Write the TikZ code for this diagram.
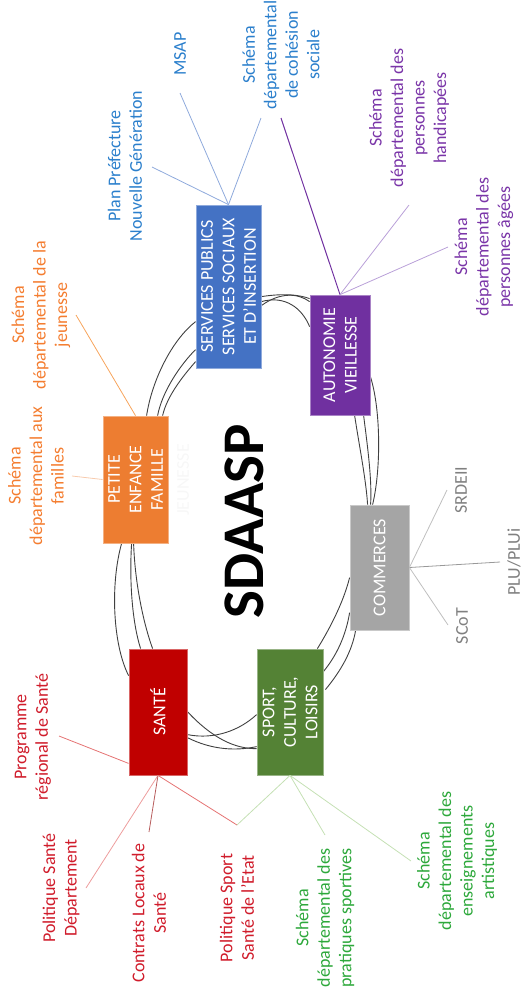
\documentclass[tikz,border=0pt]{standalone}
\usepackage{fontspec}
\setmainfont{Carlito}
\usetikzlibrary{calc}
\definecolor{cBlue}{HTML}{4472C4}
\definecolor{cPurple}{HTML}{7030A0}
\definecolor{cOrange}{HTML}{ED7D31}
\definecolor{cGray}{HTML}{A5A5A5}
\definecolor{cRed}{HTML}{C00000}
\definecolor{cGreen}{HTML}{548235}
\definecolor{tBlue}{HTML}{2B7FCC}
\definecolor{tPurple}{HTML}{7A35A8}
\definecolor{tOrange}{HTML}{F47D30}
\definecolor{tGray}{HTML}{808080}
\definecolor{tRed}{HTML}{D01C2B}
\definecolor{tGreen}{HTML}{2DA83B}
\definecolor{lBlue}{HTML}{8FAADC}
\definecolor{lPurple}{HTML}{B9A0D8}
\definecolor{lOrange}{HTML}{F7A45C}
\definecolor{lOrangeL}{HTML}{F8CBAD}
\definecolor{lGray}{HTML}{BFBFBF}
\definecolor{lRed}{HTML}{E57373}
\definecolor{lGreen}{HTML}{C5E0B4}
\tikzset{
  boxnode/.style={rectangle, inner sep=0pt, line width=0.8pt},
  boxtxt/.style={rotate=90, align=center, text=white, font=\fontsize{18}{21.5}\selectfont, inner sep=0pt},
  lbl/.style={rotate=90, align=center, font=\fontsize{18}{21.5}\selectfont, inner sep=0pt},
  ring/.style={draw=black!75, line width=0.9pt},
  leg/.style={line width=0.8pt}
}
\begin{document}
\begin{tikzpicture}[x=1pt,y=-1pt]
\useasboundingbox (0,0) rectangle (526,994);

% boxes (anchors for the ring curves)
\node[boxnode, fill=cBlue, draw=cBlue!60!white, minimum width=65pt, minimum height=163pt] (bsvc) at (228.5,286.5) {};
\node[boxnode, fill=cPurple, draw=cPurple!60!white, minimum width=60pt, minimum height=120pt] (baut) at (340,355) {};
\node[boxnode, fill=cOrange, draw=cOrange!60!white, minimum width=65pt, minimum height=127pt] (bpet) at (135.5,479.5) {};
\node[boxnode, fill=cGray, draw=cGray!60!white, minimum width=59pt, minimum height=125pt] (bcom) at (379.5,567.5) {};
\node[boxnode, fill=cRed, draw=cRed!60!white, minimum width=58pt, minimum height=126pt] (bsan) at (158,712) {};
\node[boxnode, fill=cGreen, draw=cGreen!60!white, minimum width=66pt, minimum height=126pt] (bspo) at (290,712) {};

% ring curves between boxes
% services -> autonomie
\draw[ring] ($(bsvc.north east)+(0,92)$) .. controls (285,293) and (300,295) .. ($(baut.north west)+(0,4)$);
\draw[ring] ($(bsvc.north east)+(0,97)$) .. controls (285,295) and (302,308) .. ($(baut.north west)+(0,32)$);
\draw[ring] ($(bsvc.north east)+(0,101)$) .. controls (280,292) and (298,293) .. ($(baut.north west)+(0,7)$);
% services -> petite enfance
\draw[ring] ($(bsvc.north west)+(0,117)$) .. controls (172,340) and (152,380) .. ($(bpet.north west)+(44,0)$);
\draw[ring] ($(bsvc.north west)+(0,145)$) .. controls (180,365) and (162,392) .. ($(bpet.north west)+(55,0)$);
\draw[ring] ($(bsvc.north west)+(0,157)$) .. controls (183,376) and (167,396) .. ($(bpet.north west)+(60,0)$);
% petite enfance -> sante
\draw[ring] ($(bpet.south west)+(19,0)$) .. controls (110,585) and (113,645) .. ($(bsan.north west)+(0,27)$);
\draw[ring] ($(bpet.south west)+(29,0)$) .. controls (129,585) and (133,625) .. ($(bsan.north west)+(12,0)$);
\draw[ring] ($(bpet.south west)+(31,0)$) .. controls (135,585) and (144,625) .. ($(bsan.north west)+(24,0)$);
% sante -> sport
\draw[ring] ($(bsan.north east)+(0,63)$) .. controls (212,738) and (235,749) .. ($(bspo.north west)+(0,100)$);
\draw[ring] ($(bsan.north east)+(0,86)$) .. controls (215,740) and (240,730) .. ($(bspo.north west)+(0,66)$);
\draw[ring] ($(bsan.north east)+(0,89)$) .. controls (212,750) and (236,751) .. ($(bspo.north west)+(0,98)$);
% sport -> commerces
\draw[ring] ($(bspo.north east)+(-6,0)$) .. controls (332,625) and (344,600) .. ($(bcom.north west)+(0,73)$);
\draw[ring] ($(bspo.north east)+(0,23)$) .. controls (337,655) and (346,635) .. ($(bcom.north west)+(0,108)$);
\draw[ring] ($(bspo.north east)+(2,41)$) .. controls (340,672) and (352,652) .. ($(bcom.south west)+(6,0)$);
% autonomie -> commerces
\draw[ring] ($(baut.south west)+(45,0)$) .. controls (360,450) and (366,480) .. ($(bcom.north west)+(18,0)$);
\draw[ring] ($(baut.south west)+(54,0)$) .. controls (368,450) and (372,480) .. ($(bcom.north west)+(21,0)$);
\draw[ring] ($(baut.north east)+(0,82)$) .. controls (381,410) and (381,470) .. ($(bcom.north west)+(23,0)$);

% boxes again, on top of the curves
\node[boxnode, fill=cBlue, draw=cBlue!60!white, minimum width=65pt, minimum height=163pt] (fsvc) at (bsvc) {};
\node[boxnode, fill=cPurple, draw=cPurple!60!white, minimum width=60pt, minimum height=120pt] (faut) at (baut) {};
\node[boxnode, fill=cOrange, draw=cOrange!60!white, minimum width=65pt, minimum height=127pt] (fpet) at (bpet) {};
\node[boxnode, fill=cGray, draw=cGray!60!white, minimum width=59pt, minimum height=125pt] (fcom) at (bcom) {};
\node[boxnode, fill=cRed, draw=cRed!60!white, minimum width=58pt, minimum height=126pt] (fsan) at (bsan) {};
\node[boxnode, fill=cGreen, draw=cGreen!60!white, minimum width=66pt, minimum height=126pt] (fspo) at (bspo) {};

% box texts
\node[boxtxt] (tsvc) at (bsvc) {SERVICES PUBLICS\\SERVICES SOCIAUX\\ET D’INSERTION};
\node[boxtxt] (taut) at (baut) {AUTONOMIE\\VIEILLESSE};
\node[boxtxt] (tpet) at (bpet) {PETITE\\ENFANCE\\FAMILLE};
\node[boxtxt] (tcom) at (bcom) {COMMERCES};
\node[boxtxt] (tsan) at (bsan) {SANTÉ};
\node[boxtxt] (tspo) at (bspo) {SPORT,\\CULTURE,\\LOISIRS};
\node[lbl, text=black!3] (ghost) at (183,480) {JEUNESSE};

% central title
\node[rotate=90, inner sep=0pt, font=\fontsize{59}{60}\selectfont\bfseries] (title) at (244,521) {SDAASP};

% outer labels
\node[lbl, text=tBlue] (plan) at (125,166) {Plan Préfecture\\Nouvelle Génération};
\node[lbl, text=tBlue] (msap) at (180,54) {MSAP};
\node[lbl, text=tBlue] (cohe) at (281,55) {Schéma\\départemental\\de cohésion\\sociale};
\node[lbl, text=tPurple] (hand) at (409,118) {Schéma\\départemental des\\personnes\\handicapées};
\node[lbl, text=tPurple] (agee) at (484,247) {Schéma\\départemental des\\personnes âgées};
\node[lbl, text=tOrange] (jeun) at (41,315) {Schéma\\départemental de la\\jeunesse};
\node[lbl, text=tOrange] (fami) at (36,476) {Schéma\\départemental aux\\familles};
\node[lbl, text=tGray] (srde) at (461,490) {SRDEII};
\node[lbl, text=tGray] (plu) at (514,562) {PLU/PLUi};
\node[lbl, text=tGray] (scot) at (462,626) {SCoT};
\node[lbl, text=tRed] (prog) at (33,737) {Programme\\régional de Santé};
\node[lbl, text=tRed] (pols) at (61,888) {Politique Santé\\Département};
\node[lbl, text=tRed] (cont) at (149,913) {Contrats Locaux de\\Santé};
\node[lbl, text=tRed] (polsp) at (237,908) {Politique Sport\\Santé de l’Etat};
\node[lbl, text=tGreen] (prat) at (325,918) {Schéma\\départemental des\\pratiques sportives};
\node[lbl, text=tGreen] (ense) at (457,861) {Schéma\\départemental des\\enseignements\\artistiques};

% leg end points
\coordinate (ePlan) at (152,167);
\coordinate (eMsap) at (180,93);
\coordinate (eCohe) at (261,118);
\coordinate (eCoheP) at (281,118);
\coordinate (eHand) at (409,205);
\coordinate (eAgee) at (448,247);
\coordinate (eJeun) at (76,315);
\coordinate (eFami) at (72,476);
\coordinate (eSrde) at (447,490);
\coordinate (ePlu) at (500,562);
\coordinate (eScot) at (448,625);
\coordinate (eProg) at (59,736);
\coordinate (ePols) at (86,888);
\coordinate (eCont) at (149,832);
\coordinate (eSport) at (237,825);
\coordinate (ePrat) at (325,835);
\coordinate (eEnse) at (411,861);

% legs
\draw[leg, lBlue] (bsvc.north) -- (ePlan);
\draw[leg, lBlue] (bsvc.north) -- (eMsap);
\draw[leg, lBlue] (bsvc.north) -- (eCohe);
\draw[leg, cPurple, line width=1pt] (baut.north) -- (eCoheP);
\draw[leg, lPurple] (baut.north) -- (eHand);
\draw[leg, lPurple] (baut.north) -- (eAgee);
\draw[leg, lOrange] (bpet.north) -- (eJeun);
\draw[leg, lOrangeL] (bpet.west) -- (eFami);
\draw[leg, lGray] (bcom.east) -- (eSrde);
\draw[leg, black!40] (bcom.east) -- (ePlu);
\draw[leg, lGray] (bcom.east) -- (eScot);
\draw[leg, lRed] ($(bsan.south west)+(0,-12)$) -- (eProg);
\draw[leg, lRed!70!white] (bsan.south) -- (ePols);
\draw[leg, lRed!80!black] (bsan.south) -- (eCont);
\draw[leg, lRed] (bsan.south) -- (eSport);
\draw[leg, lGreen] (bspo.south) -- (eSport);
\draw[leg, lGreen] (bspo.south) -- (ePrat);
\draw[leg, lGreen] (bspo.south) -- (eEnse);
\end{tikzpicture}
\end{document}
